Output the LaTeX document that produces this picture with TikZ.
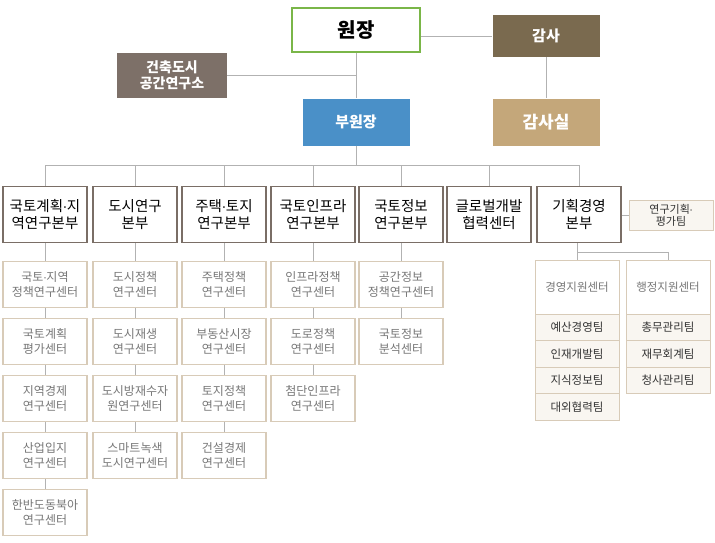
\documentclass[tikz,border=0pt]{standalone}
\usepackage{fontspec}
\setmainfont{Noto Sans CJK KR}
\newfontfamily\latinfont{Liberation Sans}
\newcommand{\mdot}{{\latinfont\kern-0.5pt·\kern-0.5pt}}
\definecolor{headgreen}{HTML}{7AB648}
\definecolor{auditbrown}{HTML}{7A6A4F}
\definecolor{instgray}{HTML}{7D7068}
\definecolor{viceblue}{HTML}{4A90C8}
\definecolor{audittan}{HTML}{C4A77A}
\definecolor{hqline}{HTML}{7A6E66}
\definecolor{ctrline}{HTML}{D8CBB8}
\definecolor{ctrtext}{HTML}{777777}
\definecolor{teamfill}{HTML}{F9F6F1}
\begin{document}
\begin{tikzpicture}[x=1pt,y=-1pt,
  link/.style={draw=gray!60, line width=0.8pt},
  topbox/.style={minimum width=107pt, minimum height=46pt, inner sep=0pt, text=white, font=\bfseries\fontsize{15}{17}\selectfont},
  hqbox/.style={draw=hqline, line width=1.5pt, fill=white, minimum width=84pt, minimum height=56pt, inner sep=0pt, align=center, font=\fontsize{14.5}{16.5}\selectfont},
  ctrbox/.style={draw=ctrline, line width=1.2pt, fill=white, minimum width=84pt, minimum height=46pt, inner sep=0pt, align=center, text=ctrtext, font=\fontsize{12}{14.5}\selectfont},
  teambox/.style={draw=ctrline, line width=1pt, fill=teamfill, minimum width=84pt, minimum height=26.5pt, inner sep=0pt, text=black!80, font=\fontsize{11.5}{13}\selectfont}
]
  \useasboundingbox (0,0) rectangle (715,542);

  % top level
  \node[topbox, draw=headgreen, line width=1.2pt, fill=white, text=black, minimum width=128pt, minimum height=44pt, font=\bfseries\fontsize{20}{22}\selectfont] (head) at (356,30) {원장};
  \node[topbox, fill=auditbrown, minimum height=42pt] (audit) at (546,36) {감사};
  \node[topbox, fill=instgray, minimum width=110pt, minimum height=45pt, align=center, font=\bfseries\fontsize{14}{16}\selectfont] (inst) at (172,75) {건축도시\\공간연구소};
  \node[topbox, fill=viceblue, minimum height=47pt] (vice) at (356,122) {부원장};
  \node[topbox, fill=audittan, minimum height=47pt, font=\bfseries\fontsize{17}{19}\selectfont] (office) at (546,122) {감사실};

  \draw[link] (head) -- (vice);
  \draw[link] (head.east |- audit) -- (audit.west);
  \draw[link] (audit) -- (office);
  \draw[link] (inst.east) -- (inst.east -| vice);

  % headquarters
  \coordinate (bar) at (356,165);
  \draw[link] (vice.south) -- (bar);
  \draw[link] (45,165) -- (579,165);
  \foreach \x/\name/\txt in {45/hq1/{국토계획\mdot 지\\역연구본부}, 135/hq2/{도시연구\\본부}, 224/hq3/{주택\mdot 토지\\연구본부},
      313/hq4/{국토인프라\\연구본부}, 401/hq5/{국토정보\\연구본부}, 489/hq6/{글로벌개발\\협력센터}, 579/hq7/{기획경영\\본부}} {
    \node[hqbox] (\name) at (\x,214.5) {\txt};
    \draw[link] (\x,165) -- (\name.north);
  }

  \node[teambox, minimum height=30pt, align=center, font=\fontsize{11}{12}\selectfont] (plan) at (671,215) {연구기획\mdot\\평가팀};
  \draw[link] (hq7.east |- plan) -- (plan.west);

  % research centres
  \foreach \col/\x/\list in {
      1/45/{국토\mdot 지역\\정책연구센터, 국토계획\\평가센터, 지역경제\\연구센터, 산업입지\\연구센터, 한반도동북아\\연구센터},
      2/135/{도시정책\\연구센터, 도시재생\\연구센터, 도시방재수자\\원연구센터, 스마트녹색\\도시연구센터},
      3/224/{주택정책\\연구센터, 부동산시장\\연구센터, 토지정책\\연구센터, 건설경제\\연구센터},
      4/313/{인프라정책\\연구센터, 도로정책\\연구센터, 첨단인프라\\연구센터},
      5/401/{공간정보\\정책연구센터, 국토정보\\분석센터}} {
    \foreach \txt [count=\i] in \list {
      \node[ctrbox] (c\col-\i) at (\x,227.5+57*\i) {\txt};
    }
  }
  \foreach \col/\n in {1/5, 2/4, 3/4, 4/3, 5/2} {
    \draw[link] (hq\col) -- (c\col-1);
    \foreach \i [remember=\i as \j (initially 1)] in {2,...,\n} {
      \draw[link] (c\col-\j) -- (c\col-\i);
    }
  }

  % support centres
  \node[draw=ctrline, line width=1pt, fill=white, minimum width=84pt, minimum height=54pt, text=ctrtext, font=\fontsize{11.5}{13}\selectfont] (mgmt) at (577,287) {경영지원센터};
  \node[draw=ctrline, line width=1pt, fill=white, minimum width=84pt, minimum height=54pt, text=ctrtext, font=\fontsize{11.5}{13}\selectfont] (admin) at (668,287) {행정지원센터};
  \foreach \txt [count=\i] in {예산경영팀, 인재개발팀, 지식정보팀, 대외협력팀} {
    \node[teambox] (m\i) at (577,300.75+26.5*\i) {\txt};
  }
  \foreach \txt [count=\i] in {총무관리팀, 재무회계팀, 청사관리팀} {
    \node[teambox] (a\i) at (668,300.75+26.5*\i) {\txt};
  }
  \coordinate (split) at (577,252);
  \draw[link] (hq7.south -| split) -- (mgmt.north);
  \draw[link] (split) -- (split -| admin) -- (admin.north);
\end{tikzpicture}
\end{document}
